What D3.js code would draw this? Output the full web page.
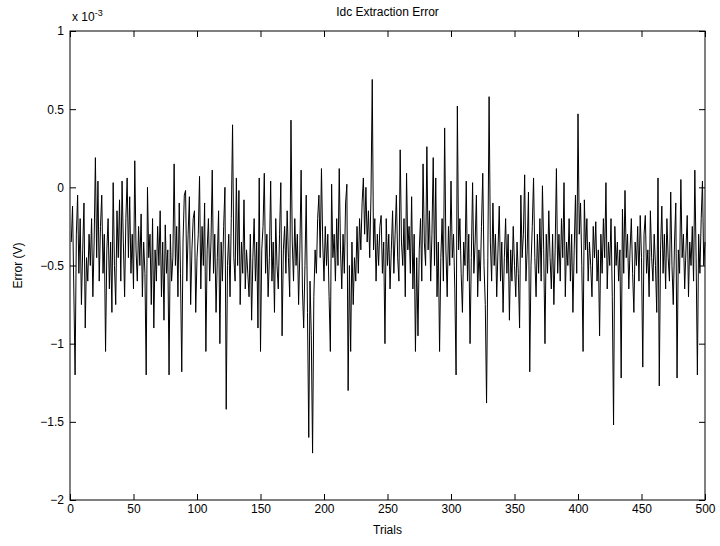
<!DOCTYPE html>
<html>
<head>
<meta charset="utf-8">
<script src="https://cdn.jsdelivr.net/npm/d3@7"></script>
<style>
body { margin: 0; background: #fff; }
svg { display: block; font-family: "Liberation Sans", Arial, sans-serif; }
</style>
</head>
<body>
<script>
// error values, units of 1e-3 V, trials 1..500 in blocks of 50
var err001 = [-0.35,-0.12,-0.65,-1.2,-0.3,-0.05,-0.55,-0.2,-0.75,-0.4,-0.1,-0.9,-0.45,-0.6,-0.3,-0.5,-0.2,-0.7,-0.35,0.19,-0.45,0.04,-0.6,-0.25,-0.05,-0.55,-0.3,-1.05,-0.4,-0.2,-0.65,-0.35,-0.8,0.03,-0.5,-0.75,-0.15,-0.45,-0.08,-0.6,0.04,-0.35,-0.7,-0.2,0.06,-0.45,-0.06,-0.55,-0.3,-0.65]
var err051 = [0.17,-0.4,-0.6,-0.25,-0.5,-0.17,-0.7,-0.35,-0.55,-1.2,0.0,-0.45,-0.3,-0.75,-0.2,-0.9,-0.4,-0.6,-0.25,-0.5,-0.15,-0.7,-0.35,-0.85,-0.24,-0.55,-0.4,-1.2,-0.3,-0.6,-0.45,0.15,-0.5,-0.25,-0.7,-0.1,-0.55,-1.18,-0.35,-0.05,-0.02,-0.6,-0.3,-0.06,-0.75,-0.4,-0.2,-0.15,-0.8,-0.45]
var err101 = [-0.3,0.07,-0.65,-0.25,-0.5,-0.1,-1.05,-0.4,-0.2,-0.6,-0.35,0.11,-0.55,-0.3,-0.8,-0.45,-0.15,-1.0,-0.35,-0.6,-0.25,0.0,-1.42,-0.5,-0.3,-0.7,-0.2,0.4,-0.45,-0.6,0.06,-0.5,-0.02,-0.75,-0.35,-0.55,-0.08,-0.65,-0.4,-0.55,-0.7,-0.3,-0.85,-0.45,-0.2,-0.6,-0.35,-0.9,0.06,-1.05]
var err151 = [-0.4,-0.25,0.09,-0.55,-0.3,-0.7,-0.45,0.04,-0.6,-0.35,-0.8,-0.2,-0.5,-0.65,-0.3,0.03,-0.95,-0.4,-0.25,-0.55,-0.15,-0.45,-0.7,0.43,-0.35,-0.6,-0.2,-0.5,-0.3,-0.75,-0.4,0.11,-0.65,-0.9,-0.5,-0.05,-0.8,-1.6,-0.6,-0.95,-1.7,-0.7,-0.4,-0.55,-0.2,-0.05,-0.45,0.12,-0.35,-0.6]
var err201 = [-0.25,-0.5,-0.3,-0.7,-1.05,0.02,-0.45,-0.3,-0.6,-0.2,-0.5,0.12,-0.4,-0.65,-0.3,-0.55,-0.1,0.02,-1.3,-0.5,-1.05,-0.35,-0.75,-0.45,-0.6,-0.25,-0.55,-0.2,-0.4,-0.1,0.06,-0.3,0.0,-0.35,-0.15,-0.45,-0.05,0.69,-0.4,-0.2,-0.6,-0.3,-0.5,-0.25,-0.18,-0.55,-0.35,-1.0,-0.2,-0.5]
var err251 = [-0.3,-0.65,-0.4,-0.15,-0.55,-0.3,-0.05,-0.45,-0.6,0.24,-0.35,-0.5,-0.2,-0.7,0.09,-0.4,-0.25,-0.55,-0.06,-0.65,-0.3,-1.05,-0.45,-0.95,-0.4,-0.2,-0.6,0.15,-0.35,-0.5,0.26,-0.4,-0.15,-0.6,-0.3,0.19,-0.5,0.06,-0.7,-0.35,-1.05,-0.45,-0.2,-0.6,0.38,-0.4,-0.7,-0.25,-0.5,0.04]
var err301 = [-0.45,-0.3,-0.65,-1.2,0.52,-0.4,-0.2,-0.55,-0.8,-0.35,-0.5,0.04,-0.6,-0.3,-1.0,-0.45,0.03,-0.55,-0.35,-0.05,-0.7,-0.4,-0.6,-0.25,0.09,-0.5,-0.75,-1.38,-0.45,0.58,-0.35,-0.6,-0.1,-0.5,-0.3,-0.7,-0.4,-0.12,-0.6,-0.35,-0.8,-0.45,-0.2,-0.55,-0.3,-0.85,-0.4,-0.6,-0.25,-0.5]
var err351 = [-0.7,-0.35,-0.55,-0.9,-0.05,-0.45,-0.3,0.08,-0.6,-0.4,-0.03,-1.18,-0.5,-0.25,0.06,-0.45,-0.7,-0.3,-0.55,-0.2,-0.6,0.01,-0.4,-1.0,-0.3,-0.55,-0.15,-0.45,-0.65,-0.3,-0.75,-0.4,0.12,-0.55,-0.3,-0.6,-0.2,-0.45,0.03,-0.7,-0.35,-0.5,-0.2,-0.6,-0.3,-0.8,-0.4,-0.05,-0.55,0.47]
var err401 = [-0.3,-0.1,-0.5,-1.05,-0.08,-0.4,-0.2,-0.6,-0.35,-0.5,-0.7,-0.25,-0.45,-0.22,-0.6,-0.4,-0.95,-0.3,-0.55,-0.2,-0.45,0.03,-0.65,-0.35,-0.5,-0.2,-0.7,-1.52,-0.25,-0.5,-0.35,-0.6,-0.4,-1.22,-0.14,-0.55,-0.02,-0.45,-0.3,-0.65,-0.4,-0.2,-0.55,-0.8,-0.35,-0.5,-0.25,-0.6,-0.18,-0.45]
var err451 = [-1.15,-0.3,-0.18,-0.55,-0.4,-0.7,-0.15,-0.45,-0.6,-0.3,-0.5,-0.8,0.06,-1.27,-0.4,-0.12,-0.55,-0.3,-0.65,-0.2,-0.45,-0.6,-0.03,-0.5,-0.75,-0.35,-0.1,-1.22,-0.4,-0.55,0.05,-0.45,-0.3,-0.65,-0.4,-0.18,-0.7,-0.35,-0.5,-0.25,-0.6,0.11,-0.45,-1.2,-0.3,-0.55,-0.2,0.04,-0.5,-0.35]

var xTicks = [0, 50, 100, 150, 200, 250, 300, 350, 400, 450, 500]
var yTicks = [-2, -1.5, -1, -0.5, 0, 0.5, 1]
var title = "Idc Extraction Error"
var xLabel = "Trials"
var yLabel = "Error (V)"

var errors = [].concat(err001, err051, err101, err151, err201, err251, err301, err351, err401, err451)
var data = errors.map(function(v, i) { return {trial: i + 1, err: v} })

var width = 720, height = 546
var margin = {top: 31, right: 15, bottom: 46, left: 70}
var plotw = width - margin.left - margin.right
var ploth = height - margin.top - margin.bottom

var svg = d3.select("body").append("svg")
    .attr("width", width).attr("height", height)

var g = svg.append("g")
    .attr("transform", "translate(" + margin.left + "," + margin.top + ")")

var xscale = d3.scaleLinear().domain([0, 500]).range([0, plotw])
var yscale = d3.scaleLinear().domain([-2, 1]).range([ploth, 0])

var fmt = function(d) { return d3.format("")(d) }

// axes with inward ticks, MATLAB style
g.append("g").attr("class", "xaxis")
    .attr("transform", "translate(0," + ploth + ")")
    .call(d3.axisBottom(xscale).tickValues(xTicks).tickSizeInner(-6).tickSizeOuter(0).tickPadding(4).tickFormat(fmt))
g.append("g").attr("class", "xaxis2")
    .call(d3.axisTop(xscale).tickValues(xTicks).tickSizeInner(-6).tickSizeOuter(0).tickFormat(""))
g.append("g").attr("class", "yaxis")
    .call(d3.axisLeft(yscale).tickValues(yTicks).tickSizeInner(-6).tickSizeOuter(0).tickPadding(6).tickFormat(fmt))
g.append("g").attr("class", "yaxis2")
    .attr("transform", "translate(" + plotw + ",0)")
    .call(d3.axisRight(yscale).tickValues(yTicks).tickSizeInner(-6).tickSizeOuter(0).tickFormat(""))

g.selectAll(".domain").remove()
g.selectAll(".tick line").attr("stroke", "#000")
g.selectAll(".tick text").attr("fill", "#000").style("font-size", "12px")

g.append("path")
    .datum(data)
    .attr("fill", "none")
    .attr("stroke", "#000")
    .attr("stroke-width", 1)
    .attr("d", d3.line().x(function(d) { return xscale(d.trial) }).y(function(d) { return yscale(d.err) }))

g.append("rect")
    .attr("x", 0).attr("y", 0).attr("width", plotw).attr("height", ploth)
    .attr("fill", "none").attr("stroke", "#000").attr("stroke-width", 1)

// exponent label
var ex = svg.append("text").attr("x", margin.left + 2).attr("y", margin.top - 10)
    .style("font-size", "12px")
ex.append("tspan").text("x 10")
ex.append("tspan").attr("dy", -5).style("font-size", "9px").text("-3")

svg.append("text").attr("x", margin.left + plotw / 2).attr("y", 16)
    .attr("text-anchor", "middle").style("font-size", "12px").text(title)

svg.append("text").attr("x", margin.left + plotw / 2).attr("y", height - 12)
    .attr("text-anchor", "middle").style("font-size", "12px").text(xLabel)

svg.append("text")
    .attr("transform", "translate(22," + (margin.top + ploth / 2) + ") rotate(-90)")
    .attr("text-anchor", "middle").style("font-size", "12px").text(yLabel)
</script>
</body>
</html>
